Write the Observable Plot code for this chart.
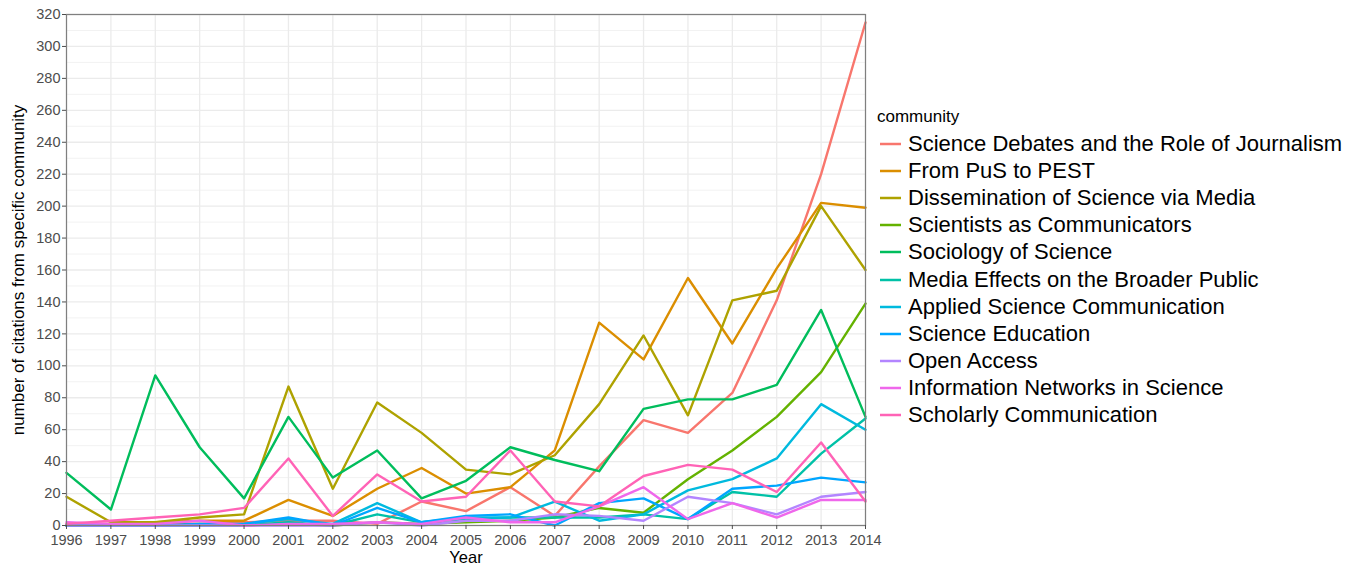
<!DOCTYPE html>
<html><head><meta charset="utf-8">
<script src="https://cdn.jsdelivr.net/npm/d3@7"></script>
<script src="https://cdn.jsdelivr.net/npm/@observablehq/plot@0.6"></script>
<style>
body{margin:0;background:#fff;font-family:"Liberation Sans",Arial,sans-serif;}
#wrap{position:relative;width:1360px;height:567px;}
#chart{position:absolute;left:0;top:0;}
#legend{position:absolute;left:877px;top:107px;color:#000;}
#legend .title{font-size:17px;height:23px;line-height:20px;}
#legend .row{display:flex;align-items:center;height:27.2px;font-size:22px;white-space:nowrap;}
#legend .row svg{margin-left:3px;margin-right:7px;}
</style></head><body>
<div id="wrap"><div id="chart"></div><div id="legend"></div></div>
<script>
const years = [1996,1997,1998,1999,2000,2001,2002,2003,2004,2005,2006,2007,2008,2009,2010,2011,2012,2013,2014];
const communities = [
  "Science Debates and the Role of Journalism",
  "From PuS to PEST",
  "Dissemination of Science via Media",
  "Scientists as Communicators",
  "Sociology of Science",
  "Media Effects on the Broader Public",
  "Applied Science Communication",
  "Science Education",
  "Open Access",
  "Information Networks in Science",
  "Scholarly Communication"
];
const colors = ["#F8766D","#DB8E00","#AEA200","#64B200","#00BD5C","#00C1A7","#00BADE","#00A6FF","#B385FF","#EF67EB","#FF63B6"];

const scienceDebates   = [1,1,1,1,2,3,3,1,15,9,24,6,37,66,58,83,141,220,315];
const fromPusToPest    = [0,1,2,3,3,16,6,23,36,20,24,47,127,104,155,114,161,202,199];
const dissemination    = [18,2,2,5,7,87,23,77,58,35,32,44,76,119,69,141,147,200,160];
const scientistsComm   = [0,0,0,1,0,1,0,2,1,2,3,5,11,8,29,47,68,96,139];
const sociology        = [33,10,94,49,17,68,30,47,17,28,49,41,34,73,79,79,88,135,68];
const mediaEffects     = [0,0,0,0,0,2,0,7,2,4,5,5,5,7,4,21,18,45,67];
const appliedScience   = [0,0,0,0,1,4,1,14,2,5,5,15,3,7,22,29,42,76,60];
const scienceEducation = [0,0,0,1,1,5,0,11,2,6,7,0,14,17,4,23,25,30,27];
const openAccess       = [0,0,0,0,0,0,0,2,0,3,3,7,6,3,18,14,7,18,21];
const infoNetworks     = [2,1,1,3,0,1,1,2,1,5,2,2,12,24,4,14,5,16,16];
const scholarlyComm    = [1,3,5,7,11,42,6,32,15,18,47,15,12,31,38,35,21,52,15];

const seriesValues = [scienceDebates, fromPusToPest, dissemination, scientistsComm, sociology,
  mediaEffects, appliedScience, scienceEducation, openAccess, infoNetworks, scholarlyComm];

const yMajor = d3.range(0, 321, 20);
const yMinor = d3.range(10, 320, 20);

const data = [];
communities.forEach((c, i) => {
  seriesValues[i].forEach((v, j) => data.push({community: c, year: years[j], value: v}));
});

const chart = Plot.plot({
  width: 890,
  height: 567,
  marginLeft: 66,
  marginRight: 25,
  marginTop: 14,
  marginBottom: 42,
  style: {fontFamily: "Liberation Sans, Arial, sans-serif", background: "transparent"},
  x: {domain: [1996, 2014], axis: null},
  y: {domain: [0, 320], axis: null},
  color: {domain: communities, range: colors},
  marks: [
    Plot.ruleY(yMinor, {stroke: "#f2f2f2", strokeWidth: 1}),
    Plot.ruleY(yMajor, {stroke: "#ebebeb", strokeWidth: 1.3}),
    Plot.ruleX(years, {stroke: "#ebebeb", strokeWidth: 1.3}),
    Plot.line(data, {x: "year", y: "value", z: "community", stroke: "community", strokeWidth: 2.4}),
    Plot.frame({stroke: "#7f7f7f", strokeWidth: 1.2}),
    Plot.axisX({ticks: years, tickFormat: d => String(d), tickSize: 4, tickPadding: 5, fontSize: 14.5, color: "#4d4d4d", label: null}),
    Plot.axisY({ticks: yMajor, tickSize: 4, tickPadding: 2, fontSize: 14.5, color: "#4d4d4d", label: null}),
    Plot.text(["Year"], {frameAnchor: "bottom", dy: 32, lineAnchor: "middle", fontSize: 16.5, fill: "#000"}),
    Plot.text(["number of citations from specific community"], {frameAnchor: "left", textAnchor: "middle", dx: -48, rotate: -90, fontSize: 17, fill: "#000"})
  ]
});
document.getElementById("chart").appendChild(chart);

const legend = document.getElementById("legend");
const t = document.createElement("div");
t.className = "title";
t.textContent = "community";
legend.appendChild(t);
communities.forEach((c, i) => {
  const row = document.createElement("div");
  row.className = "row";
  row.innerHTML = `<svg width="21" height="6"><line x1="0" x2="21" y1="3" y2="3" stroke="${colors[i]}" stroke-width="2.5"/></svg><span>${c}</span>`;
  legend.appendChild(row);
});
</script>
</body></html>
